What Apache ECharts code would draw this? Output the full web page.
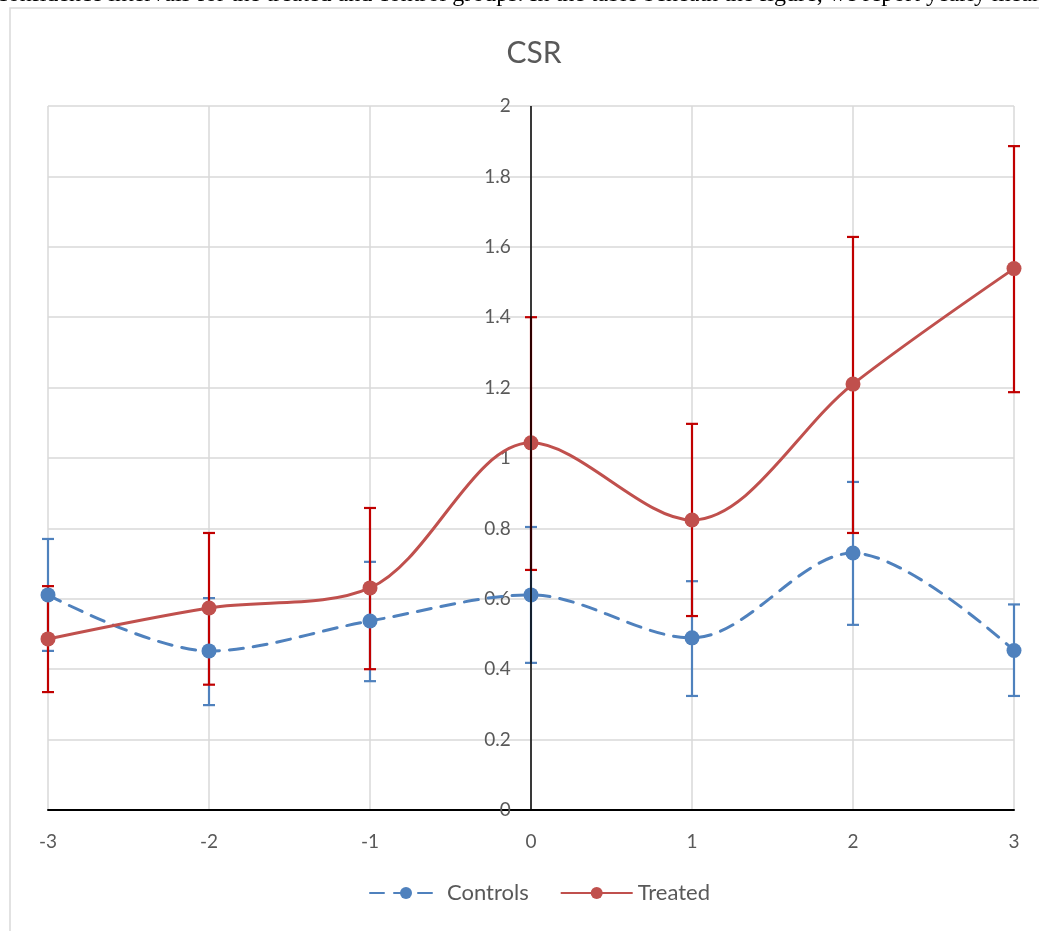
<!DOCTYPE html>
<html>
<head>
<meta charset="utf-8">
<title>CSR</title>
<script src="https://cdn.jsdelivr.net/npm/echarts@6/dist/echarts.min.js"></script>
<style>
  html, body { margin: 0; padding: 0; background: #fff; }
  #chart { width: 1039px; height: 931px; }
</style>
</head>
<body>
<div id="chart"></div>
<script>
// years relative to treatment
var years = [-3, -2, -1, 0, 1, 2, 3];

// controls: mean and confidence interval
var controlsMean = [0.611, 0.452, 0.537, 0.611, 0.489, 0.730, 0.453];
var controlsLow  = [0.452, 0.298, 0.366, 0.418, 0.324, 0.526, 0.324];
var controlsHigh = [0.770, 0.602, 0.705, 0.804, 0.650, 0.932, 0.584];

// treated: mean and confidence interval
var treatedMean = [0.486, 0.574, 0.631, 1.043, 0.824, 1.210, 1.538];
var treatedLow  = [0.335, 0.356, 0.400, 0.682, 0.551, 0.787, 1.187];
var treatedHigh = [0.636, 0.787, 0.858, 1.400, 1.097, 1.628, 1.886];

var textFont = 'Lato, "Open Sans", sans-serif';
var blue = '#4f81bd';
var red = '#c0504d';
var darkRed = '#c00000';
var gridLeft = 48;

function pairs(xs, ys) {
    return xs.map(function (x, i) { return [x, ys[i]]; });
}

function ranges(xs, lo, hi) {
    return xs.map(function (x, i) { return [x, lo[i], hi[i]]; });
}

// draws one vertical error bar with caps
function errorBar(color) {
    return function (params, api) {
        var top = api.coord([api.value(0), api.value(2)]);
        var bottom = api.coord([api.value(0), api.value(1)]);
        var half = 6;
        var style = { stroke: color, lineWidth: 2.2 };
        return {
            type: 'group',
            children: [
                { type: 'line', shape: { x1: top[0], y1: top[1], x2: bottom[0], y2: bottom[1] }, style: style },
                { type: 'line', shape: { x1: top[0] - half, y1: top[1], x2: top[0] + half, y2: top[1] }, style: style },
                { type: 'line', shape: { x1: bottom[0] - half, y1: bottom[1], x2: bottom[0] + half, y2: bottom[1] }, style: style }
            ]
        };
    };
}

var myChart = echarts.init(document.getElementById('chart'));

var option = {
    backgroundColor: '#fff',
    animation: false,
    textStyle: { fontFamily: textFont },
    title: {
        text: 'CSR',
        left: 529,
        textAlign: 'center',
        top: 33,
        textStyle: { fontFamily: textFont, fontSize: 30, fontWeight: 'normal', color: '#595959' }
    },
    graphic: [
        {
            type: 'text',
            x: -3,
            y: 7,
            style: {
                text: 'confidence intervals for the treated and control groups. In the table beneath the figure, we report yearly means',
                font: '24px "Liberation Serif", "DejaVu Serif", serif',
                fill: '#000',
                verticalAlign: 'bottom'
            }
        },
        {
            type: 'polyline',
            shape: { points: [[10, 931], [10, 8], [1039, 8]] },
            style: { stroke: '#d9d9d9', lineWidth: 1.5, fill: null }
        }
    ],
    legend: {
        bottom: 22,
        left: 364,
        itemWidth: 72,
        itemHeight: 15,
        itemGap: 31,
        data: ['Controls', 'Treated'],
        textStyle: { fontFamily: textFont, fontSize: 22, color: '#595959' }
    },
    grid: { left: gridLeft, right: 25, top: 106, bottom: 121 },
    xAxis: {
        type: 'value',
        min: -3,
        max: 3,
        interval: 1,
        axisLine: { onZero: true, lineStyle: { color: '#000', width: 2 } },
        axisTick: { show: false },
        axisLabel: { margin: 22, fontSize: 19, color: '#595959', fontFamily: textFont },
        splitLine: { show: true, lineStyle: { color: '#d9d9d9', width: 1.5 } }
    },
    yAxis: {
        type: 'value',
        min: 0,
        max: 2,
        interval: 0.2,
        axisLine: { show: false },
        axisTick: { show: false },
        axisLabel: {
            margin: 22,
            fontSize: 19,
            color: '#595959',
            fontFamily: textFont,
            formatter: function (v) { return String(+v.toFixed(1)); }
        },
        splitLine: { show: true, lineStyle: { color: '#d9d9d9', width: 1.5 } }
    },
    series: [
        {
            name: 'Controls CI',
            type: 'custom',
            renderItem: errorBar(blue),
            encode: { x: 0, y: [1, 2] },
            data: ranges(years, controlsLow, controlsHigh),
            z: 1,
            silent: true,
            // vertical axis line crossing at x = 0
            markLine: {
                silent: true,
                symbol: 'none',
                label: { show: false },
                lineStyle: { color: '#000', width: 1.5, type: 'solid' },
                data: [{ xAxis: 0 }]
            }
        },
        {
            name: 'Treated CI',
            type: 'custom',
            renderItem: errorBar(darkRed),
            encode: { x: 0, y: [1, 2] },
            data: ranges(years, treatedLow, treatedHigh),
            z: 2,
            silent: true
        },
        {
            name: 'Controls',
            type: 'line',
            smooth: 0.33,
            data: pairs(years, controlsMean),
            symbol: 'circle',
            symbolSize: 15,
            itemStyle: { color: blue },
            lineStyle: { color: blue, width: 3, type: [14, 10], cap: 'round' },
            z: 3
        },
        {
            name: 'Treated',
            type: 'line',
            smooth: 0.33,
            data: pairs(years, treatedMean),
            symbol: 'circle',
            symbolSize: 15,
            itemStyle: { color: red },
            lineStyle: { color: red, width: 3 },
            z: 4
        }
    ]
};

myChart.setOption(option);

// put the y labels next to x = 0, like Excel's crossing axis
var zeroX = myChart.convertToPixel({ xAxisIndex: 0 }, 0);
myChart.setOption({ yAxis: { offset: gridLeft - zeroX } });
</script>
</body>
</html>
